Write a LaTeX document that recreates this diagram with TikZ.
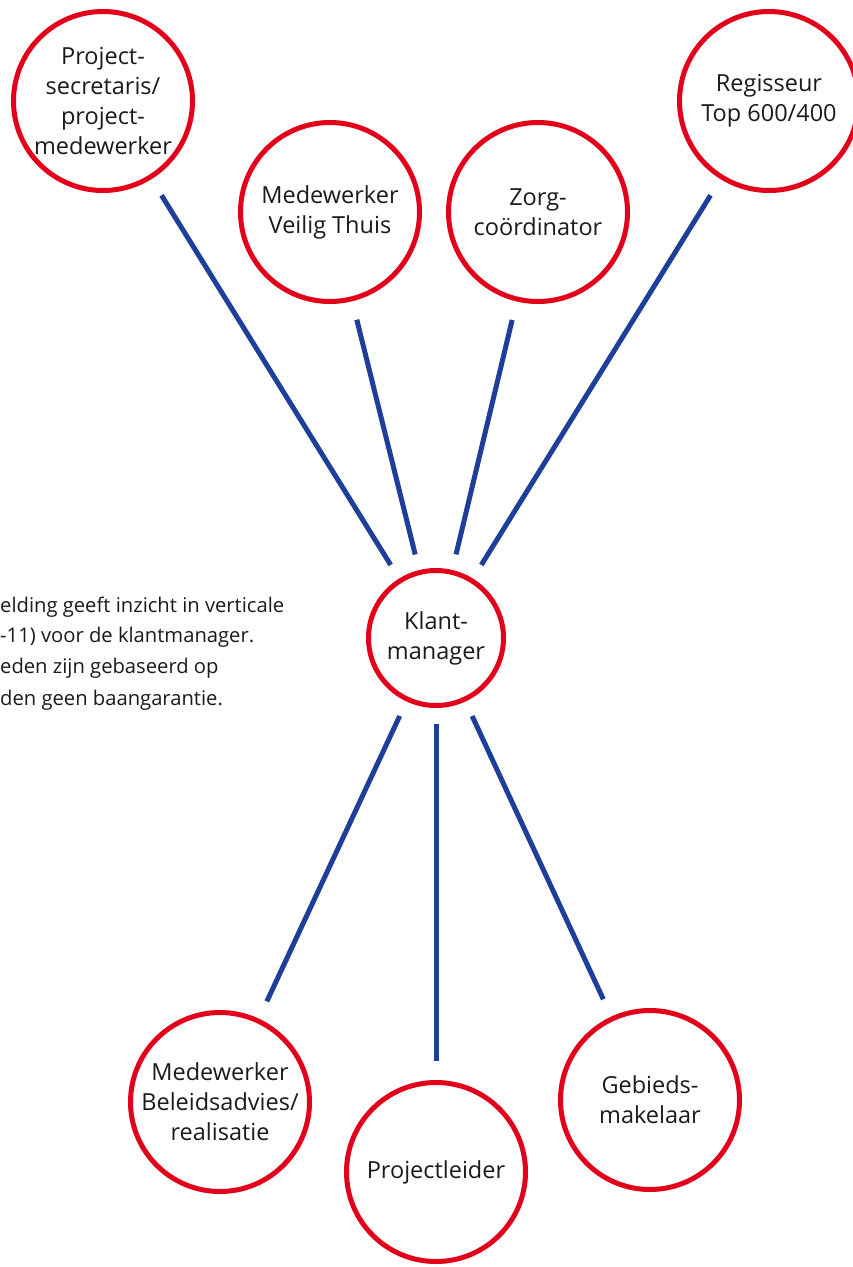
\documentclass[tikz,border=0pt]{standalone}
\usepackage{fontspec}
\setmainfont{Open Sans}[Ligatures=NoCommon]
\definecolor{cred}{HTML}{E2001A}
\definecolor{cblue}{HTML}{1E3F99}
\definecolor{ctext}{HTML}{1A1A1A}
\begin{document}
\begin{tikzpicture}[x=1pt,y=-1pt,
  big/.style={circle,draw=cred,line width=5pt,minimum size=179pt,inner sep=0pt,
    align=center,text=ctext,font=\fontsize{23.5}{30}\selectfont},
  small/.style={big,minimum size=135pt},
  link/.style={cblue,line width=5pt,shorten <=19pt,shorten >=16pt},
  note/.style={anchor=base west,inner sep=0pt,text=ctext,font=\fontsize{20.2}{20}\selectfont}]
\useasboundingbox (0,0) rectangle (853,1267);
\node[big] (ps) at (103,101) {Project-\\secretaris/\\project-\\medewerker};
\node[big] (vt) at (330,212) {Medewerker\\Veilig Thuis};
\node[big] (zc) at (538,212) {Zorg-\\coördinator};
\node[big] (rg) at (769,101) {Regisseur\\Top 600/400};
\node[small] (km) at (436,638) {Klant-\\manager};
\node[big] (mb) at (220,1102) {Medewerker\\Beleidsadvies/\\realisatie};
\node[big] (pl) at (436,1172) {Projectleider};
\node[big] (gm) at (650,1100) {Gebieds-\\makelaar};
\draw[link] (ps) -- (km);
\draw[link] (vt) -- (km);
\draw[link] (zc) -- (km);
\draw[link] (rg) -- (km);
\draw[link] (mb) -- (km);
\draw[link] (pl) -- (km);
\draw[link] (gm) -- (km);
\node[note] (n1) at (0,612) {elding geeft inzicht in verticale};
\node[note] (n2) at (0,642) {-11) voor de klantmanager.};
\node[note] (n3) at (0,673) {eden zijn gebaseerd op};
\node[note] (n4) at (0,705) {den geen baangarantie.};
\end{tikzpicture}
\end{document}
